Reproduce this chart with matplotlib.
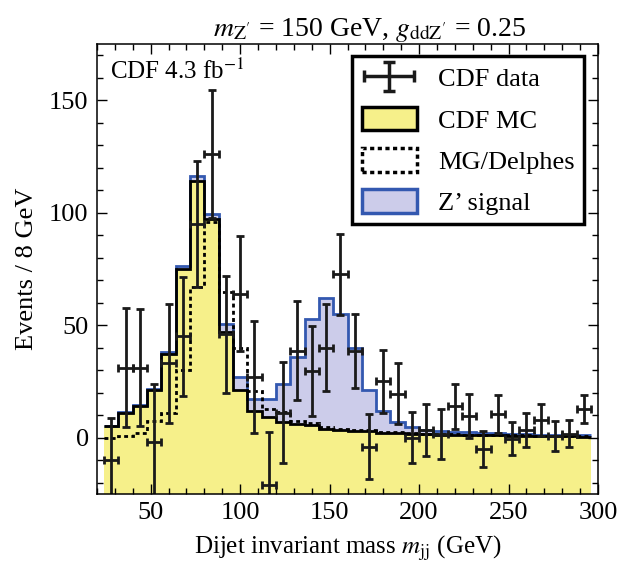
import numpy as np
import matplotlib
matplotlib.use("Agg")
import matplotlib.pyplot as plt
from matplotlib.patches import Patch
from matplotlib.container import ErrorbarContainer
from matplotlib.legend_handler import HandlerErrorbar
from matplotlib.ticker import MultipleLocator

plt.rcParams["font.family"] = ["Liberation Serif", "DejaVu Serif"]
plt.rcParams["mathtext.fontset"] = "stix"

# 8 GeV bins from 24 to 296 GeV
bin_edges = np.arange(24, 297, 8)
bin_centers = bin_edges[:-1] + 4

cdf_mc = [5, 11, 14, 21, 37, 75, 114, 97, 47, 21,
          12, 9, 7, 6, 5.5, 4, 3.5, 3, 2.8, 2.2,
          2, 1.5, 1.4, 1.3, 1.2, 1.1, 1.0, 0.9, 0.8, 0.7,
          0.6, 0.5, 0.5, 0.4]
zprime_signal = [0.2, 0.3, 0.4, 0.5, 0.8, 1.3, 2.3, 2.5, 3.5, 6,
                 5, 8, 17, 30, 47, 58, 51.5, 37, 18.2, 9.6,
                 5, 3.3, 1.9, 1.5, 1.3, 1.2, 1.1, 1.0, 0.9, 0.8,
                 0.7, 0.6, 0.5, 0.5]
mg_delphes = [0, 0.8, 1.9, 7.5, 10.7, 30, 67, 96, 64.5, 40,
              20.5, 12.5, 11.3, 7.5, 6.3, 4.6, 4, 3.5, 3.2, 2.6,
              2.3, 1.8, 1.6, 1.5, 1.4, 1.3, 1.2, 1.1, 1.0, 0.9,
              0.8, 0.7, 0.6, 0.5]
cdf_data = [-10, 31, 31, -2, 33, 45, 95, 126, 46, 64,
            27, -21, 11, 38.5, 29.5, 40, 72.5, 38.5, -4, 25,
            19.5, 0, 3.5, 1.5, 14, 9.5, -5, 10.5, -0.5, 3.3,
            7.8, 0.7, 1.6, 12.7]
cdf_err = [18.5, 26.5, 26, 26, 26.5, 26.5, 28, 28.5, 26, 25.5,
           25, 23.5, 22.5, 22, 20, 19.5, 18, 16.5, 14.5, 14,
           13.5, 11.5, 11.5, 11, 10, 9.7, 8, 8.5, 7.3, 7.5,
           7, 6.5, 6, 6.3]

yellow = "#f6f08a"
lavender = "#ccccea"
blue = "#3358b0"

mc = np.array(cdf_mc)
total = mc + np.array(zprime_signal)

fig = plt.figure(figsize=(6.19, 5.72), dpi=100)
ax = fig.add_axes([0.1567, 0.1368, 0.8094, 0.7867])

ax.stairs(mc, bin_edges, baseline=-25, fill=True, color=yellow, lw=0)
ax.stairs(total, bin_edges, baseline=mc, fill=True, color=lavender, lw=0)
ax.stairs(total, bin_edges, baseline=None, color=blue, lw=2)
ax.stairs(mc, bin_edges, baseline=None, color="black", lw=2)
ax.stairs(mg_delphes, bin_edges, baseline=None, color="black", lw=2,
          linestyle=(0, (1.4, 1.2)))
ax.errorbar(bin_centers, cdf_data, yerr=cdf_err, xerr=4, fmt="none",
            ecolor="#1a1a1a", elinewidth=2, capsize=3.2, capthick=2)

ax.set_xlim(20, 300)
ax.set_ylim(-25, 175)
ax.xaxis.set_major_locator(MultipleLocator(50))
ax.xaxis.set_minor_locator(MultipleLocator(10))
ax.yaxis.set_major_locator(MultipleLocator(50))
ax.yaxis.set_minor_locator(MultipleLocator(10))
ax.tick_params(which="both", direction="in", top=True, right=True,
               labelsize=19, width=1)
ax.tick_params(which="major", length=7, pad=6)
ax.tick_params(which="minor", length=4)
for sp in ax.spines.values():
    sp.set_linewidth(1.1)

ax.set_xlabel(r"Dijet invariant mass $m_{\mathrm{jj}}$ (GeV)", fontsize=18,
              labelpad=7)
ax.set_ylabel("Events / 8 GeV", fontsize=19, labelpad=8)
ax.set_title(r"$m_{\mathrm{Z'}}$ = 150 GeV, $g_{\mathrm{ddZ'}}$ = 0.25",
             fontsize=20, pad=5, x=0.545)
ax.text(0.025, 0.968, r"CDF 4.3 fb$^{-1}$", transform=ax.transAxes,
        fontsize=18, va="top", ha="left")

# legend handle for the data: one point placed off the visible range
eb = ax.errorbar([-100], [0], yerr=[1], xerr=[1], fmt="none", ecolor="#1a1a1a",
                 elinewidth=2.5, capsize=4, capthick=2.5)
handles = [
    eb,
    Patch(facecolor=yellow, edgecolor="black", lw=2.5),
    Patch(facecolor="white", edgecolor="black", lw=2.5, linestyle=(0, (1.2, 1.0))),
    Patch(facecolor=lavender, edgecolor=blue, lw=2.5),
]
labels = ["CDF data", "CDF MC", "MG/Delphes", "Z\u2019 signal"]
leg = ax.legend(handles, labels, loc="upper right",
                bbox_to_anchor=(0.972, 0.972), borderaxespad=0,
                fontsize=19, fancybox=False, framealpha=1,
                edgecolor="black", handlelength=2.1, handleheight=1.0,
                labelspacing=0.58, borderpad=0.35, handletextpad=0.8,
                handler_map={ErrorbarContainer: HandlerErrorbar(xerr_size=0.95,
                                                                yerr_size=0.55)})
leg.get_frame().set_linewidth(2.5)

fig.savefig("out.png", dpi=100)
